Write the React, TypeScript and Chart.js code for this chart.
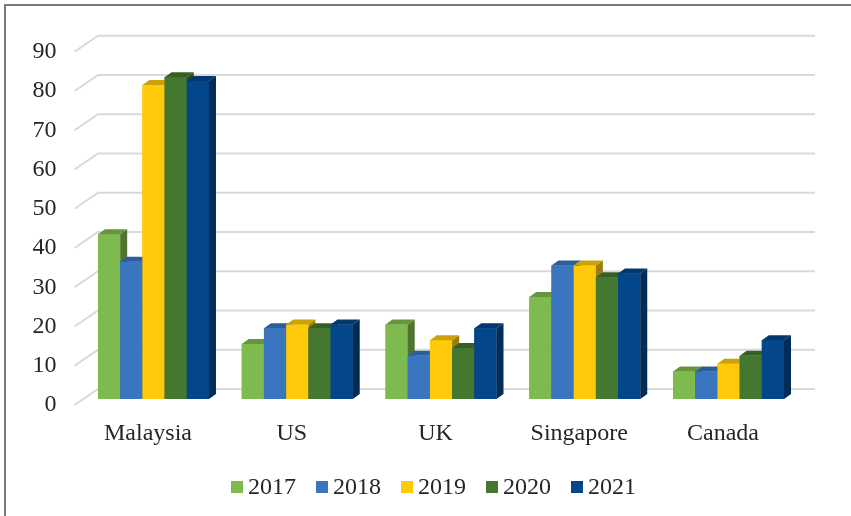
import React, { useEffect, useRef } from "react";
import { Chart, registerables } from "chart.js";

Chart.register(...registerables);

const categories = ["Malaysia", "US", "UK", "Singapore", "Canada"];
const years = ["2017", "2018", "2019", "2020", "2021"];
const v2017 = [42, 14, 19, 26, 7];
const v2018 = [35, 18, 11, 34, 7];
const v2019 = [80, 19, 15, 34, 9];
const v2020 = [82, 18, 13, 31, 11];
const v2021 = [81, 19, 18, 32, 15];
const seriesValues = [v2017, v2018, v2019, v2020, v2021];
const yTicks = [0, 10, 20, 30, 40, 50, 60, 70, 80, 90];
const colors = ["#7FBA4E", "#3A76C0", "#FFCA0A", "#44772F", "#03468A"];

const FONT = '24px "Liberation Serif", "Times New Roman", serif';
const TEXT = "#262626";
const DX = 7;
const DY = 5;

function shade(hex: string, f: number): string {
  const n = parseInt(hex.slice(1), 16);
  const r = Math.round(((n >> 16) & 255) * f);
  const g = Math.round(((n >> 8) & 255) * f);
  const b = Math.round((n & 255) * f);
  return `rgb(${r},${g},${b})`;
}

const threeD = {
  id: "threeD",
  beforeDraw(chart: any) {
    const ctx = chart.ctx;
    ctx.save();
    ctx.fillStyle = "#ffffff";
    ctx.fillRect(0, 0, chart.width, chart.height);
    ctx.strokeStyle = "#7a7a7a";
    ctx.lineWidth = 2;
    ctx.beginPath();
    ctx.moveTo(5, chart.height);
    ctx.lineTo(5, 5);
    ctx.lineTo(chart.width, 5);
    ctx.stroke();
    ctx.restore();
  },
  beforeDatasetsDraw(chart: any) {
    const { ctx, chartArea, scales } = chart;
    const y = scales.y;
    const frontL = chartArea.left - 7;
    const backL = chartArea.left + 16.4;
    const backR = chartArea.right + 14.6;
    ctx.save();
    ctx.strokeStyle = "#d9d9d9";
    ctx.lineWidth = 2;
    for (const t of yTicks) {
      const py = y.getPixelForValue(t);
      ctx.beginPath();
      ctx.moveTo(frontL, py + 6);
      ctx.lineTo(backL, py - 10);
      ctx.lineTo(backR, py - 10);
      ctx.stroke();
    }
    ctx.fillStyle = TEXT;
    ctx.font = FONT;
    ctx.textAlign = "right";
    ctx.textBaseline = "middle";
    for (const t of yTicks) {
      const py = y.getPixelForValue(t);
      ctx.fillText(String(t), frontL - 18, py + 6);
    }
    ctx.restore();
  },
  afterDatasetsDraw(chart: any) {
    const { ctx, scales } = chart;
    const metas = chart.data.datasets.map((_: any, i: number) => chart.getDatasetMeta(i));
    ctx.save();
    for (let j = 0; j < categories.length; j++) {
      for (let i = 0; i < metas.length; i++) {
        const el = metas[i].data[j];
        const { x, y, base, width } = el.getProps(["x", "y", "base", "width"], true);
        const l = x - width / 2;
        const r = x + width / 2;
        const c = colors[i];
        ctx.fillStyle = c;
        ctx.fillRect(l, y, width, base - y);
        ctx.fillStyle = shade(c, 0.62);
        ctx.beginPath();
        ctx.moveTo(r, y);
        ctx.lineTo(r + DX, y - DY);
        ctx.lineTo(r + DX, base - DY);
        ctx.lineTo(r, base);
        ctx.closePath();
        ctx.fill();
        ctx.fillStyle = shade(c, 0.8);
        ctx.beginPath();
        ctx.moveTo(l, y);
        ctx.lineTo(l + DX, y - DY);
        ctx.lineTo(r + DX, y - DY);
        ctx.lineTo(r, y);
        ctx.closePath();
        ctx.fill();
      }
    }
    // category labels
    const xs = scales.x;
    const base0 = scales.y.getPixelForValue(0);
    ctx.fillStyle = TEXT;
    ctx.font = FONT;
    ctx.textAlign = "center";
    ctx.textBaseline = "alphabetic";
    categories.forEach((cat, j) => {
      ctx.fillText(cat, xs.getPixelForValue(j) - 5.5, base0 + 41);
    });
    // legend
    const spacing = 85;
    const startX = 433.5 - (4 * spacing + 65) / 2;
    years.forEach((yr, i) => {
      const bx = startX + i * spacing;
      ctx.fillStyle = colors[i];
      ctx.fillRect(bx, base0 + 82, 12, 12);
      ctx.fillStyle = TEXT;
      ctx.textAlign = "left";
      ctx.fillText(yr, bx + 17, base0 + 95);
    });
    ctx.restore();
  },
};

export default function App() {
  const ref = useRef<HTMLCanvasElement | null>(null);
  useEffect(() => {
    if (!ref.current) return;
    const chart = new Chart(ref.current, {
      type: "bar",
      data: {
        labels: categories,
        datasets: years.map((yr, i) => ({
          label: yr,
          data: seriesValues[i],
          backgroundColor: colors[i],
          borderWidth: 0,
          categoryPercentage: 0.772,
          barPercentage: 1.0,
        })),
      },
      options: {
        responsive: false,
        animation: false,
        layout: { padding: { left: 81.6, right: 50.6, top: 45.75, bottom: 117 } },
        plugins: { legend: { display: false }, tooltip: { enabled: false } },
        scales: {
          x: { display: false },
          y: { display: false, min: 0, max: 90 },
        },
      },
      plugins: [threeD],
    });
    return () => chart.destroy();
  }, []);
  return (
    <div style={{ position: "absolute", left: 0, top: 0, width: 851, height: 516 }}>
      <canvas ref={ref} width={851} height={516} style={{ display: "block" }} />
    </div>
  );
}
